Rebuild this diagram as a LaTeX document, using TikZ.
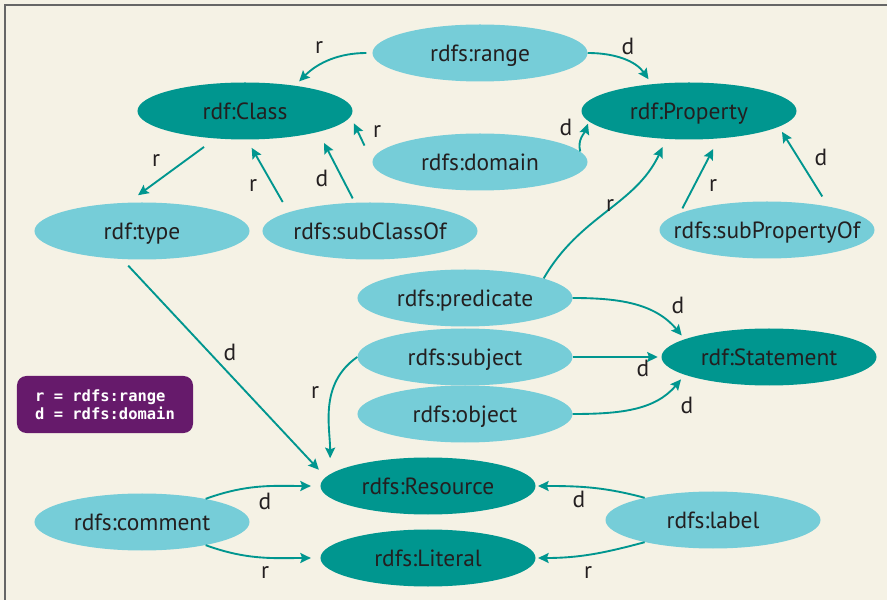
\documentclass[tikz,border=0pt]{standalone}
\usepackage{xcolor}
\usepackage{fontspec}
\setmainfont{PT Sans}
\setmonofont{DejaVu Sans Mono}
\usepackage{tikz}
\usetikzlibrary{shapes, arrows.meta, positioning}
\definecolor{paper}{HTML}{F5F2E5}
\definecolor{lightteal}{HTML}{76CDD8}
\definecolor{darkteal}{HTML}{00968F}
\definecolor{ink}{HTML}{231F20}
\definecolor{keypurple}{HTML}{661A6B}
\tikzset{
    prop/.style={ellipse, fill=lightteal, minimum width=6.45cm, minimum height=1.71cm, inner xsep=-4cm, inner ysep=0pt, text depth=0pt, text=ink, font=\fontsize{20}{23}\selectfont},
    cls/.style={prop, fill=darkteal},
    arrow/.style={-{Stealth[length=9pt, width=8.5pt, inset=1.5pt]}, draw=darkteal, line width=1.6pt},
    lbl/.style={inner sep=0pt, text=ink, font=\fontsize{20}{23}\selectfont},
    key/.style={rectangle, rounded corners=8pt, fill=keypurple, text=white, align=left, minimum width=5.28cm, minimum height=1.71cm, font=\ttfamily\bfseries\fontsize{13.2}{15.3}\selectfont}
}
\begin{document}
\begin{tikzpicture}[x=0.03cm, y=-0.03cm]
  \useasboundingbox (0,0) rectangle (887,600);
  \fill[paper] (0,0) rectangle (887,600);
  \draw[gray!80!black, line width=1.2pt] (5,600) -- (5,5) -- (887,5);

  % classes and properties
  \node[prop] (range) at (480,53) {rdfs:range};
  \node[cls] (class) at (245,111) {rdf:Class};
  \node[cls] (property) at (689,111) {rdf:Property};
  \node[prop] (domain) at (480,162) {rdfs:domain};
  \node[prop] (type) at (142,231) {rdf:type};
  \node[prop] (subclass) at (370,231) {rdfs:subClassOf};
  \node[prop] (subprop) at (767,230) {rdfs:subPropertyOf};
  \node[prop] (predicate) at (465,298) {rdfs:predicate};
  \node[prop] (subject) at (465,357) {rdfs:subject};
  \node[prop] (object) at (465,414) {rdfs:object};
  \node[cls] (statement) at (769,357) {rdf:Statement};
  \node[cls] (resource) at (428,486) {rdfs:Resource};
  \node[cls] (literal) at (428,558) {rdfs:Literal};
  \node[prop] (comment) at (142,522) {rdfs:comment};
  \node[prop] (label) at (713,520) {rdfs:label};
  \node[key] (legend) at (105,404.5) {r = rdfs:range\\d = rdfs:domain};

  % connectors
  \draw[arrow, shorten <=5pt, shorten >=5pt] (range.west) to[out=180, in=45] (class.27);
  \draw[arrow, shorten >=5pt] (range.east) to[out=0, in=125] (property.144);
  \draw[arrow, shorten <=15.5pt, shorten >=6.5pt] (domain.west) -- (class.-3);
  \draw[arrow, shorten >=2pt] (domain.6) to[out=105, in=-110] (property.186);
  \draw[arrow, shorten <=12pt, shorten >=10.5pt] (class.223) -- (type.116);
  \draw[arrow, shorten <=10pt, shorten >=8pt] (subclass.167) -- (class.-86);
  \draw[arrow, shorten <=4pt, shorten >=10.5pt] (subclass.118) -- (class.-16);
  \draw[arrow, shorten <=4.5pt, shorten >=10pt] (subprop.169) -- (property.-43);
  \draw[arrow, shorten <=10pt, shorten >=5pt] (subprop.21) -- (property.-10);
  \draw[arrow, shorten >=7.5pt] (predicate.14) to[out=60, in=-115] (property.-129);
  \draw[arrow, shorten >=4pt] (predicate.east) to[out=0, in=130] (statement.168);
  \draw[arrow, shorten >=3pt] (subject.east) -- (statement.west);
  \draw[arrow, shorten >=5pt] (object.east) to[out=0, in=-130] (statement.192);
  \draw[arrow, shorten >=13.5pt] (subject.west) to[out=-145, in=90] (resource.173);
  \draw[arrow, shorten <=7.5pt, shorten >=8.5pt] (type.-125) -- (resource.175);
  \draw[arrow, shorten >=8pt] (comment.20) to[out=20, in=180] (resource.west);
  \draw[arrow, shorten >=8pt] (comment.-20) to[out=-20, in=180] (literal.west);
  \draw[arrow, shorten >=2pt] (label.162) to[out=165, in=0] (resource.east);
  \draw[arrow, shorten >=2pt] (label.-162) to[out=-165, in=0] (literal.east);

  % r / d marks
  \node[lbl] (l1) at (319,48) {r};
  \node[lbl] (l2) at (628,46) {d};
  \node[lbl] (l3) at (377,132) {r};
  \node[lbl] (l4) at (566,127) {d};
  \node[lbl] (l5) at (156,161) {r};
  \node[lbl] (l6) at (253,186) {r};
  \node[lbl] (l7) at (322,178) {d};
  \node[lbl] (l8) at (713,186) {r};
  \node[lbl] (l9) at (821,157) {d};
  \node[lbl] (l10) at (610,206) {r};
  \node[lbl] (l11) at (678,305) {d};
  \node[lbl] (l12) at (643,368) {d};
  \node[lbl] (l13) at (687,405) {d};
  \node[lbl] (l14) at (315,393) {r};
  \node[lbl] (l15) at (230,352) {d};
  \node[lbl] (l16) at (265,501) {d};
  \node[lbl] (l17) at (265,573) {r};
  \node[lbl] (l18) at (579,499) {d};
  \node[lbl] (l19) at (588,573) {r};
\end{tikzpicture}
\end{document}
